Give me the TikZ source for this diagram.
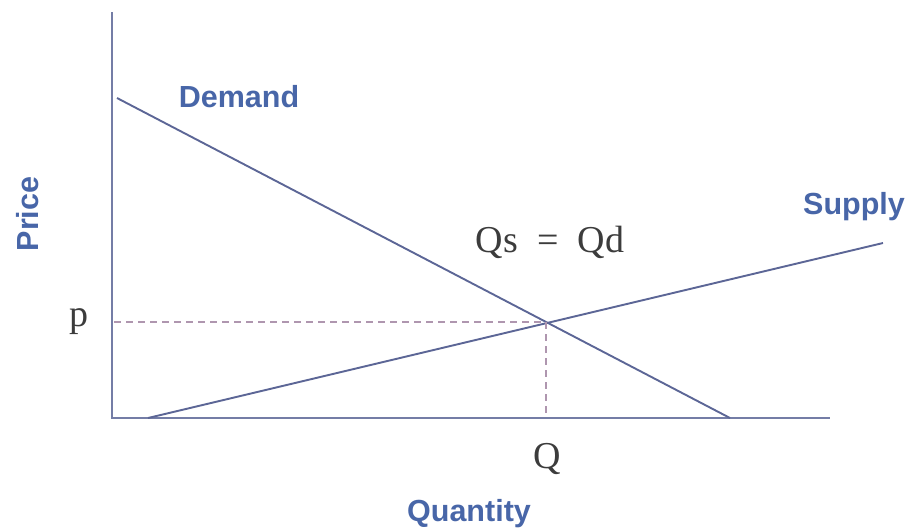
\documentclass[tikz,border=0pt]{standalone}
\usepackage{fontspec}
\setmainfont{Liberation Serif}
\setsansfont{Liberation Sans}
\definecolor{lbl}{RGB}{72,102,168}
\definecolor{ln}{RGB}{92,102,150}
\definecolor{dsh}{RGB}{175,150,175}
\definecolor{txt}{RGB}{60,60,60}
\begin{document}
\begin{tikzpicture}[x=1pt,y=-1pt,
  curve/.style={draw=ln,line width=1.9pt},
  axis/.style={draw=ln!85,line width=1.9pt},
  guide/.style={draw=dsh,line width=1.5pt,dash pattern=on 7pt off 5pt},
  axlabel/.style={text=lbl,font=\sffamily\bfseries\fontsize{30.5}{32}\selectfont,inner sep=0pt},
  serlabel/.style={text=txt,font=\fontsize{38}{40}\selectfont,inner sep=0pt}]
\useasboundingbox (0,0) rectangle (909,531);
% axes
\coordinate (ytop) at (112,12);
\coordinate (orig) at (112,418);
\coordinate (xend) at (830,418);
\draw[axis] (ytop) -- (orig) -- (xend);
% curves
\coordinate (d1) at (117,98);
\coordinate (d2) at (730,418);
\coordinate (s1) at (148,418);
\coordinate (s2) at (883,243);
\draw[curve] (d1) -- (d2);
\draw[curve] (s1) -- (s2);
% equilibrium
\coordinate (eq) at (546,322);
\coordinate (py) at (114,322);
\coordinate (qx) at (546,416);
\draw[guide] (py) -- (eq);
\draw[guide] (eq) -- (qx);
% labels
\node[axlabel] (dem) at (239,97) {Demand};
\node[axlabel] (sup) at (854,207) {Supply};
\node[axlabel] (qty) at (469,514) {Quantity};
\node[axlabel,rotate=90] (pri) at (28,214) {Price};
\node[serlabel] (eqlab) at (550,242) {Qs\hspace{0.5em}=\hspace{0.5em}Qd};
\node[serlabel] (plab) at (79,322) {p};
\node[serlabel] (qlab) at (547,459) {Q};
\end{tikzpicture}
\end{document}
